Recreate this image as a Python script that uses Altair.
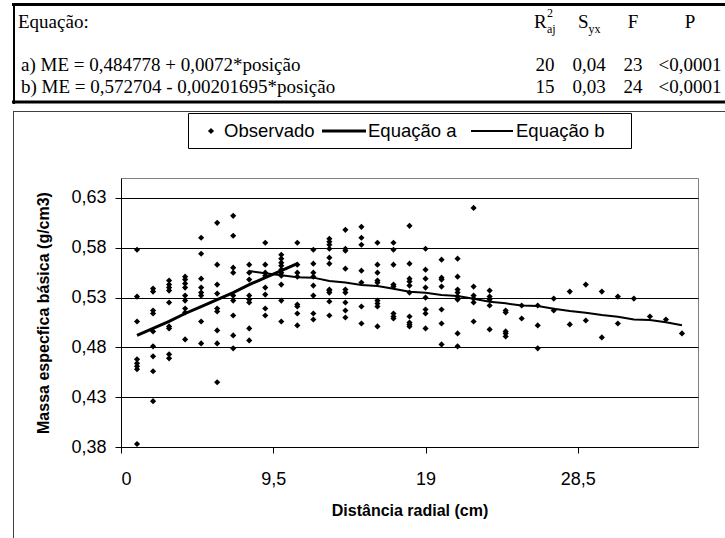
import altair as alt
import pandas as pd

# ---------------- data ----------------
positions = list(range(1, 36))
observed = [
    [0.578, 0.531, 0.506, 0.468, 0.464, 0.461, 0.458, 0.383],
    [0.539, 0.536, 0.517, 0.514, 0.496, 0.481, 0.471, 0.456, 0.426],
    [0.547, 0.543, 0.540, 0.537, 0.525, 0.501, 0.499, 0.473, 0.469],
    [0.551, 0.548, 0.544, 0.540, 0.532, 0.527, 0.519, 0.515, 0.488],
    [0.590, 0.574, 0.549, 0.540, 0.535, 0.532, 0.506, 0.484],
    [0.605, 0.563, 0.543, 0.534, 0.519, 0.516, 0.497, 0.484, 0.445],
    [0.612, 0.592, 0.560, 0.555, 0.532, 0.527, 0.512, 0.492, 0.479],
    [0.563, 0.555, 0.548, 0.532, 0.528, 0.525, 0.499, 0.487],
    [0.585, 0.563, 0.555, 0.552, 0.540, 0.533, 0.519, 0.512],
    [0.573, 0.569, 0.565, 0.562, 0.558, 0.555, 0.552, 0.543, 0.527, 0.506],
    [0.585, 0.563, 0.555, 0.551, 0.523, 0.521, 0.514, 0.502],
    [0.578, 0.564, 0.555, 0.551, 0.542, 0.532, 0.514, 0.508],
    [0.589, 0.586, 0.583, 0.579, 0.570, 0.564, 0.538, 0.537, 0.535, 0.526, 0.512],
    [0.598, 0.579, 0.577, 0.559, 0.538, 0.535, 0.525, 0.517, 0.510],
    [0.601, 0.590, 0.583, 0.557, 0.545, 0.521, 0.504],
    [0.585, 0.563, 0.555, 0.547, 0.545, 0.527, 0.524, 0.521, 0.501],
    [0.585, 0.578, 0.563, 0.543, 0.541, 0.514, 0.511, 0.509],
    [0.602, 0.564, 0.549, 0.546, 0.542, 0.535, 0.511, 0.505, 0.503, 0.501],
    [0.579, 0.558, 0.549, 0.540, 0.530, 0.518, 0.514, 0.499],
    [0.568, 0.550, 0.548, 0.541, 0.518, 0.504, 0.483],
    [0.569, 0.551, 0.538, 0.535, 0.531, 0.528, 0.494, 0.481],
    [0.620, 0.541, 0.532, 0.529, 0.525, 0.506],
    [0.537, 0.531, 0.528, 0.522, 0.498],
    [0.517, 0.515, 0.496, 0.494, 0.491],
    [0.522, 0.509],
    [0.522, 0.502, 0.479],
    [0.529, 0.517],
    [0.536, 0.503],
    [0.543, 0.507],
    [0.536, 0.490],
    [0.531, 0.504],
    [0.529],
    [0.511],
    [0.508],
    [0.494],
]

eq_a_pos = list(range(1, 12))
eq_a_me = [0.492, 0.499, 0.506, 0.514, 0.521, 0.528, 0.535, 0.543, 0.550, 0.557, 0.564]

eq_b_pos = list(range(8, 36))
eq_b_me = [0.5566, 0.5545, 0.5525, 0.5505, 0.5500, 0.5467, 0.5450, 0.5426, 0.5416,
           0.5389, 0.5359, 0.5349, 0.5326, 0.5316, 0.5289, 0.5258, 0.5242, 0.5221,
           0.5215, 0.5188, 0.5164, 0.5147, 0.5124, 0.5107, 0.5080, 0.5074, 0.5053,
           0.5023]

x_ticks = [0, 9.5, 19, 28.5]
y_ticks = [0.38, 0.43, 0.48, 0.53, 0.58, 0.63]

header_label = "Equação:"
header_cols = ["F", "P"]
row_a = ["a) ME = 0,484778 + 0,0072*posição", "20", "0,04", "23", "<0,0001"]
row_b = ["b) ME = 0,572704 - 0,00201695*posição", "15", "0,03", "24", "<0,0001"]
legend_labels = ["Observado", "Equação a", "Equação b"]
x_title = "Distância radial (cm)"
y_title = "Massa especfica básica (g/cm3)"

# ---------------- tables ----------------
obs_df = pd.DataFrame(
    [{"pos": p, "me": v} for p, vals in zip(positions, observed) for v in vals]
)
a_df = pd.DataFrame({"pos": eq_a_pos, "me": eq_a_me})
b_df = pd.DataFrame({"pos": eq_b_pos, "me": eq_b_me})

SANS = "Liberation Sans"
SERIF = "Liberation Serif"

x_enc = alt.X(
    "pos:Q",
    scale=alt.Scale(domain=[0, 36], nice=False, zero=False),
    axis=alt.Axis(
        values=x_ticks,
        labelExpr="replace(toString(datum.value), '.', ',')",
        title=x_title,
        grid=False,
        titleX=288.5,
        titleY=63,
        titleBaseline="middle",
        titleAlign="center",
        labelPadding=17,
        labelBaseline="top",
    ),
)
y_enc = alt.Y(
    "me:Q",
    scale=alt.Scale(domain=[0.38, 0.65], nice=False, zero=False),
    axis=alt.Axis(
        values=y_ticks,
        labelExpr="replace(format(datum.value, '.2f'), '.', ',')",
        title=y_title,
        grid=True,
        gridColor="#000000",
        gridWidth=1,
        titleX=-78,
        titleY=134.5,
        titleAngle=270,
        titleBaseline="middle",
        titleAlign="center",
        labelPadding=9,
    ),
)

points = alt.Chart(obs_df).mark_point(
    shape="diamond", filled=True, color="#000000", size=38, opacity=1
).encode(x=x_enc, y=y_enc)

line_a = alt.Chart(a_df).mark_line(color="#000000", strokeWidth=3).encode(
    x=x_enc, y=y_enc, order="pos:Q"
)
line_b = alt.Chart(b_df).mark_line(color="#000000", strokeWidth=2).encode(
    x=x_enc, y=y_enc, order="pos:Q"
)

ONE = alt.Data(values=[{}])
L, T = 121, 178  # plot origin in page pixels


def rx(v):
    return v - L


def ry(v):
    return v - T


def text(s, x, y, size=19, font=SERIF, align="left", baseline="alphabetic", weight="normal"):
    return alt.Chart(ONE).mark_text(
        text=s, font=font, fontSize=size, align=align, baseline=baseline,
        color="#000000", fontWeight=weight,
    ).encode(x=alt.value(rx(x)), y=alt.value(ry(y)))


def hrule(x1, x2, y, w=1, color="#000000"):
    return alt.Chart(ONE).mark_rule(color=color, strokeWidth=w).encode(
        x=alt.value(rx(x1)), x2=alt.value(rx(x2)), y=alt.value(ry(y))
    )


def vrule(x, y1, y2, w=1, color="#000000"):
    return alt.Chart(ONE).mark_rule(color=color, strokeWidth=w).encode(
        x=alt.value(rx(x)), y=alt.value(ry(y1)), y2=alt.value(ry(y2))
    )


deco = []
# outer chart frame
deco.append(hrule(13, 725, 111.5, 1, "#404040"))
deco.append(vrule(13.5, 111, 538, 1, "#404040"))
# table borders
deco.append(hrule(12, 725, 4.5, 3))
deco.append(vrule(14, 3, 104, 2))
deco.append(hrule(12, 725, 102, 3))

# table header
hb, ab, bb = 28, 71, 93
deco.append(text(header_label, 18, hb))
deco.append(text("R", 534, hb))
deco.append(text("2", 547, hb - 11, size=12))
deco.append(text("aj", 547, hb + 5, size=12))
deco.append(text("S", 578, hb))
deco.append(text("yx", 588.5, hb + 5, size=12))
deco.append(text(header_cols[0], 633, hb, align="center"))
deco.append(text(header_cols[1], 690, hb, align="center"))

col_x = [545, 589, 633, 690]
for row, base in ((row_a, ab), (row_b, bb)):
    deco.append(text(row[0], 21, base))
    for s, cx in zip(row[1:], col_x):
        deco.append(text(s, cx, base, align="center"))

# legend box
deco.append(
    alt.Chart(ONE).mark_rect(fill="#ffffff", stroke="#000000", strokeWidth=1).encode(
        x=alt.value(rx(188.5)), x2=alt.value(rx(631.5)),
        y=alt.value(ry(113.5)), y2=alt.value(ry(148.5)),
    )
)
ly = 131
LFS = 18.5
deco.append(
    alt.Chart(ONE).mark_point(shape="diamond", filled=True, color="#000000", size=38, opacity=1)
    .encode(x=alt.value(rx(211)), y=alt.value(ry(ly)))
)
deco.append(text(legend_labels[0], 224, ly, size=LFS, font=SANS, baseline="middle"))
deco.append(hrule(322, 366, ly, 3))
deco.append(text(legend_labels[1], 368, ly, size=LFS, font=SANS, baseline="middle"))
deco.append(hrule(471, 513, ly, 2))
deco.append(text(legend_labels[2], 516, ly, size=LFS, font=SANS, baseline="middle"))

chart = alt.layer(points, line_a, line_b, *deco).properties(
    width=577,
    height=269,
    padding={"left": 121, "top": 178, "right": 27, "bottom": 91},
    autosize=alt.AutoSizeParams(type="none"),
    background="#ffffff",
).configure_view(
    stroke="#808080", strokeWidth=1
).configure_axis(
    labelFont=SANS,
    labelFontSize=18,
    labelColor="#000000",
    titleFont=SANS,
    titleFontSize=16,
    titleFontWeight="bold",
    titleColor="#000000",
    tickColor="#000000",
    tickSize=6,
    domainColor="#000000",
    domainWidth=1,
)

chart.save("out.html", embed_options={"renderer": "svg", "actions": False})
